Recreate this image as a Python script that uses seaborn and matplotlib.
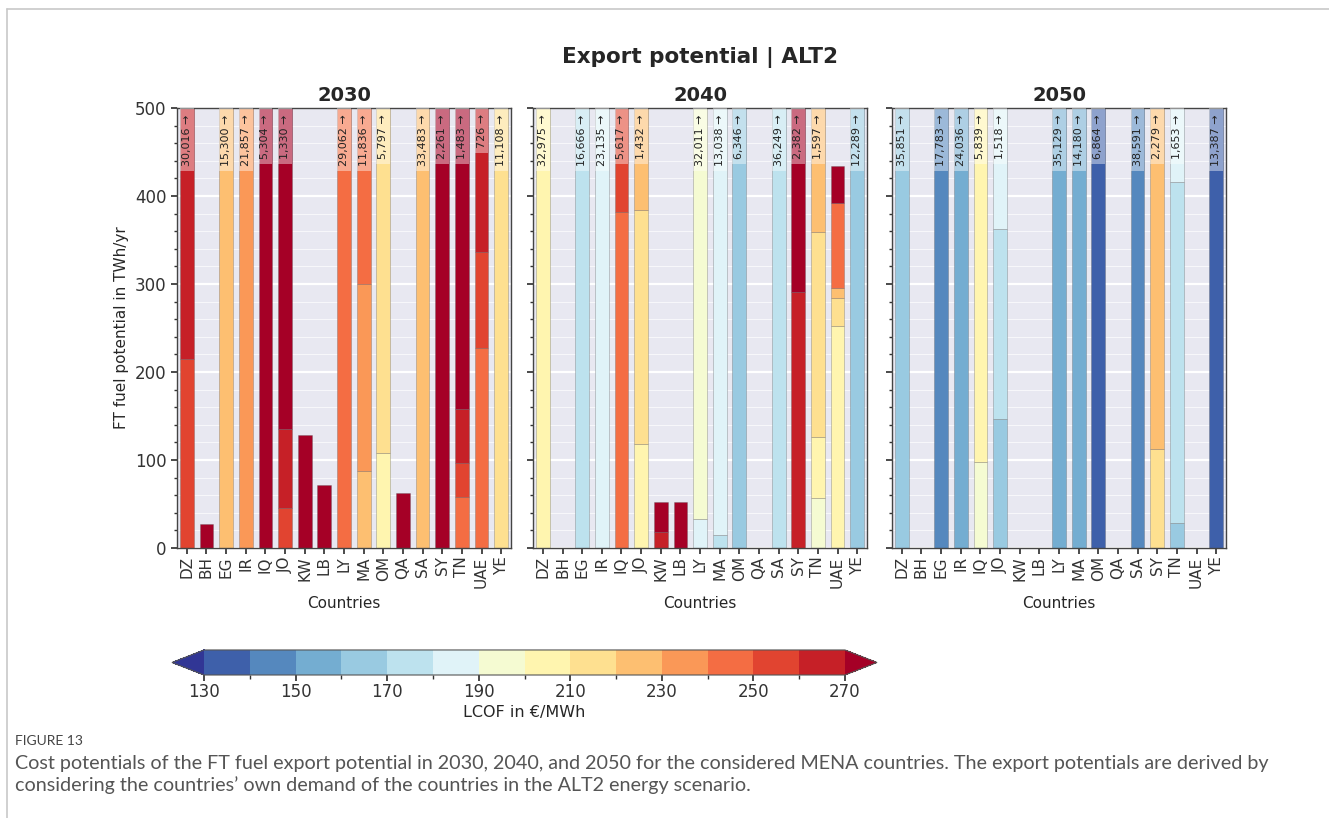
import matplotlib
matplotlib.use("Agg")
import matplotlib as mpl
import matplotlib.pyplot as plt
from matplotlib.lines import Line2D
from matplotlib.ticker import MultipleLocator, FixedLocator
import numpy as np
import seaborn as sns

countries = ["DZ", "BH", "EG", "IR", "IQ", "JO", "KW", "LB", "LY", "MA",
             "OM", "QA", "SA", "SY", "TN", "UAE", "YE"]
years = ["2030", "2040", "2050"]

# cumulative segment tops in TWh/yr, last value = total potential of the country
tops_2030 = [[215, 30016], [27], [15300], [21857], [5304], [45, 135, 1330], [128], [72],
             [29062], [87, 300, 11836], [108, 5797], [62], [33483], [2261],
             [58, 97, 158, 1483], [227, 336, 726], [11108]]
# LCOF of each segment in EUR/MWh
lcof_2030 = [[255, 265], [275], [225], [235], [275], [255, 265, 275], [275], [275],
             [245], [225, 235, 245], [205, 215], [275], [225], [275],
             [245, 255, 265, 275], [245, 255, 265], [215]]

tops_2040 = [[32975], [], [16666], [23135], [382, 5617], [118, 384, 1432], [18, 52], [52],
             [33, 32011], [15, 13038], [6346], [], [36249], [291, 2382],
             [57, 126, 359, 1597], [252, 284, 295, 392, 434], [12289]]
lcof_2040 = [[205], [], [175], [185], [245, 255], [205, 215, 225], [265, 275], [275],
             [185, 195], [175, 185], [165], [], [175], [265, 275],
             [195, 205, 215, 225], [205, 215, 225, 245, 275], [165]]

tops_2050 = [[35851], [], [17783], [24036], [98, 5839], [146, 363, 1518], [], [],
             [35129], [14180], [6864], [], [38591], [113, 2279],
             [28, 416, 1653], [], [13387]]
lcof_2050 = [[165], [], [145], [155], [195, 205], [165, 175, 185], [], [],
             [155], [155], [135], [], [145], [215, 225],
             [165, 175, 185], [], [135]]

levels = np.arange(130, 280, 10)
ymax = 500

sns.set_theme(style="darkgrid", rc={
    "axes.facecolor": "#e8e8f1",
    "axes.edgecolor": "#333333",
    "axes.linewidth": 1.0,
    "xtick.bottom": True,
    "ytick.left": True,
    "xtick.color": "#333333",
    "ytick.color": "#333333",
    "xtick.major.size": 4,
    "ytick.major.size": 4,
    "ytick.minor.size": 2.5,
})
plt.rcParams["font.family"] = ["DejaVu Sans"]

cmap = mpl.colormaps["RdYlBu_r"].resampled(16)
norm = mpl.colors.BoundaryNorm(levels, cmap.N, extend="both")

fig = plt.figure(figsize=(13.29, 8.18), dpi=100)

# page frame of the journal figure
fig.add_artist(Line2D([7 / 1329, 7 / 1329], [0, 1 - 9 / 818], transform=fig.transFigure,
                      color="#c8c8c8", lw=1.2))
fig.add_artist(Line2D([7 / 1329, 1], [1 - 9 / 818, 1 - 9 / 818], transform=fig.transFigure,
                      color="#c8c8c8", lw=1.2))

lefts = [0.1332, 0.4011, 0.6712]
all_tops = [tops_2030, tops_2040, tops_2050]
all_lcof = [lcof_2030, lcof_2040, lcof_2050]
x = np.arange(len(countries))
bar_w = 0.7

axes = []
labels = []
for k, year in enumerate(years):
    ax = fig.add_axes([lefts[k], 0.3301, 0.2513, 0.5379])
    axes.append(ax)
    ax.grid(False, axis="x")
    ax.grid(True, axis="y", which="major", color="white", lw=1.6)
    ax.grid(True, axis="y", which="minor", color="white", lw=0.6, alpha=0.8)
    for i in range(len(countries)):
        bottom = 0
        for top, lc in zip(all_tops[k][i], all_lcof[k][i]):
            ax.bar(x[i], top - bottom, bottom=bottom, width=bar_w, color=cmap(norm(lc)),
                   edgecolor=(0.35, 0.35, 0.35, 0.35), lw=0.6, zorder=2)
            bottom = top
        if bottom > ymax:
            t = ax.annotate(f"{bottom:,} \u2192", xy=(x[i], ymax), xytext=(0, -4.5),
                            textcoords="offset points", rotation=90, ha="center", va="top",
                            fontsize=8, color="#222222", zorder=4)
            labels.append((ax, x[i], t))
    ax.set_xlim(-0.5, len(countries) - 0.5)
    ax.set_ylim(0, ymax)
    ax.set_xticks(x)
    ax.set_xticklabels(countries, rotation=90, fontsize=11)
    ax.yaxis.set_major_locator(MultipleLocator(100))
    ax.yaxis.set_minor_locator(MultipleLocator(20))
    ax.tick_params(axis="y", which="both", left=True)
    ax.tick_params(axis="x", pad=2)
    ax.set_xlabel("Countries", fontsize=11, labelpad=6)
    ax.set_title(year, fontsize=14, fontweight="bold", pad=5)
    for s in ax.spines.values():
        s.set_visible(True)
        s.set_color("#444444")
    if k == 0:
        ax.set_ylabel("FT fuel potential in TWh/yr", fontsize=11)
        ax.tick_params(axis="y", labelsize=12)
    else:
        ax.tick_params(axis="y", labelleft=False)

# light cap behind the total labels of bars that run off the axis
fig.canvas.draw()
renderer = fig.canvas.get_renderer()
for ax, xi, t in labels:
    bb = t.get_window_extent(renderer)
    y0 = ax.transData.inverted().transform((bb.x0, bb.y0 - 5))[1]
    ax.bar(xi, ymax - y0, bottom=y0, width=bar_w, color="white", alpha=0.42, lw=0, zorder=3)

fig.text(0.527, 0.930, "Export potential | ALT2", ha="center", va="center",
         fontsize=15.5, fontweight="bold")

cax = fig.add_axes([172 / 1329, 1 - 675 / 818, 705 / 1329, 0.0306])
sm = mpl.cm.ScalarMappable(norm=norm, cmap=cmap)
cb = fig.colorbar(sm, cax=cax, orientation="horizontal", extend="both")
cb.set_ticks(np.arange(130, 271, 20))
cb.ax.xaxis.set_minor_locator(FixedLocator(np.arange(140, 270, 20)))
cb.ax.tick_params(which="major", labelsize=12, length=4, pad=2, color="#333333")
cb.ax.tick_params(which="minor", length=3, color="#333333")
cb.outline.set_edgecolor("#555555")
cb.outline.set_linewidth(0.8)
cb.set_label("LCOF in \u20ac/MWh", fontsize=11.5, labelpad=3)

cap_font = ["Lato", "DejaVu Sans"]
fig.text(15 / 1329, 1 - 741 / 818, "FIGURE 13", ha="left", va="center",
         fontsize=10, color="#444444", family=cap_font)
fig.text(15 / 1329, 1 - 763 / 818,
         "Cost potentials of the FT fuel export potential in 2030, 2040, and 2050 for the "
         "considered MENA countries. The export potentials are derived by",
         ha="left", va="center", fontsize=14.2, color="#555555", family=cap_font)
fig.text(15 / 1329, 1 - 785 / 818,
         "considering the countries\u2019 own demand of the countries in the ALT2 energy scenario.",
         ha="left", va="center", fontsize=14.2, color="#555555", family=cap_font)

fig.savefig("out.png", dpi=100)
